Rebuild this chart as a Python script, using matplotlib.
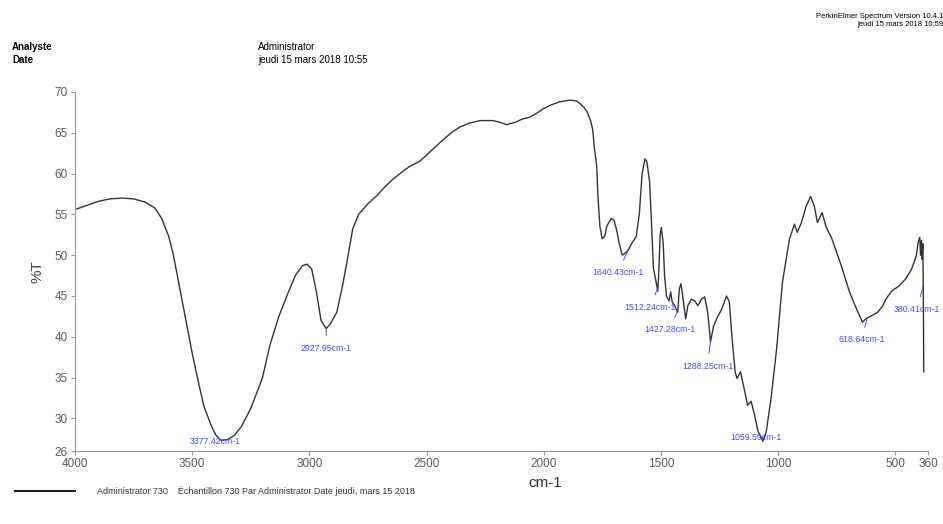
import numpy as np
import matplotlib
matplotlib.use("Agg")
import matplotlib.pyplot as plt

plt.rcParams['font.family'] = ['Liberation Sans', 'DejaVu Sans']

# spectrum (cm-1, %T)
wavenumber = [4000, 3950, 3900, 3850, 3800, 3750, 3700, 3660, 3630, 3600, 3580, 3560,
              3530, 3500, 3470, 3450, 3420, 3400, 3377, 3350, 3320, 3290, 3250, 3200,
              3168, 3130, 3096, 3060, 3030, 3010, 2990, 2970, 2950, 2928, 2910, 2883,
              2860, 2840, 2815, 2790, 2750, 2712, 2680, 2644, 2600, 2571, 2529, 2480,
              2431, 2390, 2358, 2316, 2270, 2217, 2188, 2158, 2120, 2090, 2060, 2030,
              2004, 1970, 1932, 1889, 1860, 1846, 1825, 1812, 1800, 1791, 1783, 1774,
              1768, 1760, 1750, 1740, 1730, 1712, 1700, 1688, 1678, 1665, 1655, 1640,
              1625, 1605, 1592, 1580, 1568, 1560, 1548, 1540, 1532, 1513, 1508, 1503,
              1498, 1490, 1484, 1476, 1465, 1458, 1452, 1441, 1428, 1421, 1414, 1405,
              1394, 1385, 1370, 1355, 1342, 1327, 1313, 1300, 1288, 1275, 1262, 1240,
              1220, 1208, 1196, 1183, 1175, 1160, 1145, 1130, 1115, 1100, 1085, 1065,
              1050, 1030, 1006, 981, 951, 930, 918, 900, 880, 861, 845, 832, 812, 795,
              770, 730, 695, 665, 640, 620, 600, 575, 555, 540, 515, 485, 455, 430,
              410, 402, 395, 392, 388, 385, 382, 380, 378]
transmittance = [55.6, 56.1, 56.6, 56.9, 57.0, 56.9, 56.5, 55.8, 54.5, 52.3, 50.0, 47.0,
                 42.5, 38.0, 34.0, 31.5, 29.2, 28.0, 27.3, 27.4, 27.9, 29.0, 31.2, 35.0,
                 39.0, 42.5, 45.0, 47.5, 48.7, 48.9, 48.3, 45.5, 42.0, 41.0, 41.6, 43.0,
                 46.0, 49.1, 53.2, 55.0, 56.3, 57.3, 58.3, 59.3, 60.3, 60.9, 61.5, 62.8,
                 64.1, 65.1, 65.7, 66.2, 66.5, 66.5, 66.3, 66.0, 66.3, 66.7, 66.9, 67.4,
                 67.9, 68.4, 68.8, 69.0, 68.9, 68.6, 68.0, 67.4, 66.5, 65.4, 63.0, 61.0,
                 57.0, 53.5, 52.0, 52.3, 53.6, 54.5, 54.3, 53.0, 51.5, 50.0, 50.2, 50.6,
                 51.4, 52.3, 55.0, 60.0, 61.8, 61.5, 59.0, 54.0, 48.5, 45.6, 48.5, 52.5,
                 53.4, 51.5, 47.4, 45.0, 44.4, 45.5, 44.3, 43.8, 43.0, 45.9, 46.5, 44.6,
                 42.2, 43.8, 44.6, 44.4, 43.8, 44.6, 44.9, 43.0, 39.4, 41.3, 42.2, 43.4,
                 45.0, 44.3, 39.8, 35.7, 34.9, 35.7, 33.7, 31.6, 32.1, 30.4, 28.4, 27.2,
                 28.4, 32.4, 38.5, 46.7, 52.0, 53.8, 52.8, 54.0, 56.0, 57.2, 56.0, 54.0,
                 55.2, 53.5, 52.0, 48.7, 45.5, 43.4, 41.8, 42.3, 42.6, 43.0, 43.7, 44.6,
                 45.6, 46.2, 47.1, 48.3, 49.9, 51.6, 52.2, 50.0, 51.8, 49.5, 51.4, 45.0,
                 35.7]

peak_positions = [3377.42, 2927.95, 1640.43, 1512.24, 1427.28, 1288.25, 1059.59, 618.64, 380.41]
peak_labels = [f"{p:.2f}cm-1" for p in peak_positions]
# text offsets in pixels (dx, dy) from the peak point
label_offsets = [(-6, -1), (0, -20), (-10, -22), (-8, -20), (-8, -20),
                 (-3, -25), (-8, 0), (-6, -22), (-6, -24)]

x_ticks = [4000, 3500, 3000, 2500, 2000, 1500, 1000, 500, 360]
y_ticks = [26, 30, 35, 40, 45, 50, 55, 60, 65, 70]

fig = plt.figure(figsize=(9.43, 5.24), dpi=100)
ax = fig.add_axes([75 / 943, (524 - 451) / 524, 853 / 943, (451 - 92) / 524])

ax.plot(wavenumber, transmittance, color='#333333', lw=1.0)
ax.set_xlim(4000, 360)
ax.set_ylim(26, 70)
ax.set_xticks(x_ticks)
ax.set_yticks(y_ticks)
ax.tick_params(labelsize=8.5, labelcolor='#5a5a5a', color='#999999', length=3, width=0.8, pad=2)
for s in ['top', 'right']:
    ax.spines[s].set_visible(False)
for s in ['left', 'bottom']:
    ax.spines[s].set_color('#999999')
    ax.spines[s].set_linewidth(0.8)
ax.set_xlabel("cm-1", fontsize=11, color='#333333')
ax.set_ylabel("%T", fontsize=11, color='#444444')
ax.xaxis.set_label_coords((545 - 75) / 853, -(476 - 451) / 359)
ax.yaxis.set_label_coords(-(75 - 44) / 853, 0.5)

# peak picks
w_rev = wavenumber[::-1]
t_rev = transmittance[::-1]
for p, lab, (dx, dy) in zip(peak_positions, peak_labels, label_offsets):
    t = np.interp(p, w_rev, t_rev)
    ax.annotate(lab, xy=(p, t), xytext=(dx * 0.72, dy * 0.72), textcoords='offset points',
                ha='center', va='center', fontsize=6.3, color='#4a4aee',
                arrowprops=dict(arrowstyle='-', color='#4a4aee', lw=0.7, shrinkA=4, shrinkB=0))

# header texts
fig.text(12 / 943, 1 - 47 / 524, "Analyste", fontsize=7, va='center', fontweight='bold')
fig.text(12 / 943, 1 - 60 / 524, "Date", fontsize=7, va='center', fontweight='bold')
fig.text(258 / 943, 1 - 47 / 524, "Administrator", fontsize=7, va='center')
fig.text(258 / 943, 1 - 60 / 524, "jeudi 15 mars 2018 10:55", fontsize=7, va='center')
fig.text(1.0, 1 - 17 / 524, "PerkinElmer Spectrum Version 10.4.1", fontsize=5.5, ha='right', va='center')
fig.text(1.0, 1 - 24 / 524, "jeudi 15 mars 2018 10:59", fontsize=5.5, ha='right', va='center')

# legend line at bottom
fig.add_artist(plt.Line2D([15 / 943, 75 / 943], [1 - 491 / 524, 1 - 491 / 524], color='#222222', lw=1.5))
fig.text(97 / 943, 1 - 491 / 524, "Administrator 730    Échantillon 730 Par Administrator Date jeudi, mars 15 2018",
         fontsize=6.5, va='center', color='#333333')

fig.savefig("out.png", dpi=100)
